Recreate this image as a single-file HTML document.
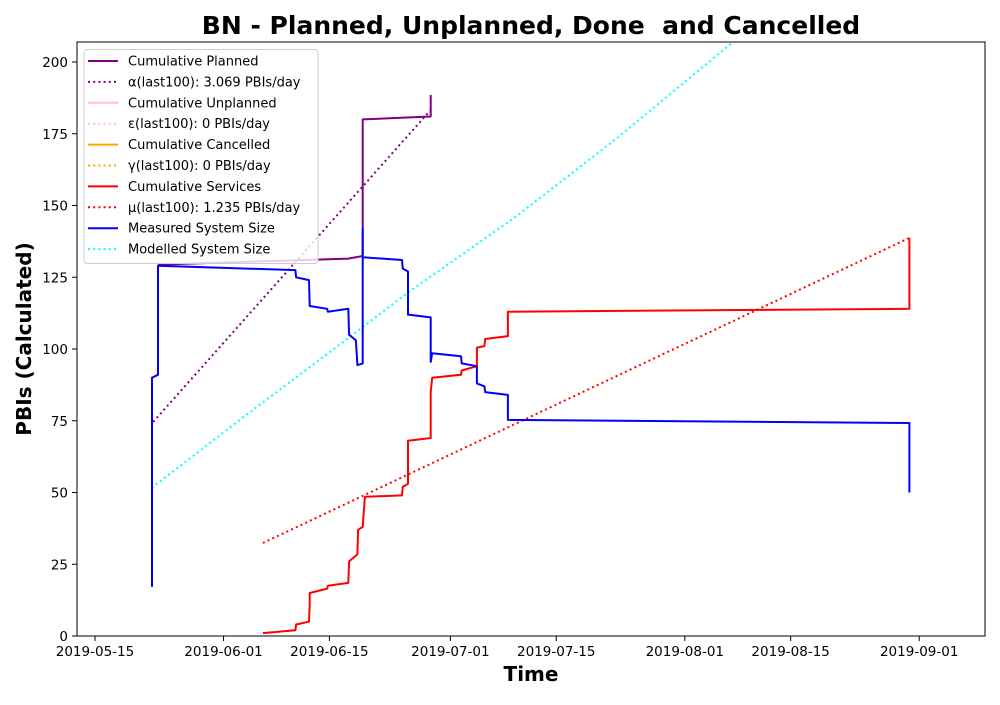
<!DOCTYPE html>
<html><head><meta charset="utf-8"><style>
body{margin:0;background:#fff;}
svg{font-family:"DejaVu Sans","Liberation Sans",sans-serif;}
</style></head><body>
<svg id="chart" width="1000" height="700" xmlns="http://www.w3.org/2000/svg">
<rect width="1000" height="700" fill="#fff"/>
<text x="531" y="34" text-anchor="middle" font-size="25" font-weight="bold">BN - Planned, Unplanned, Done &#160;and Cancelled</text>
<text x="531" y="681" text-anchor="middle" font-size="20" font-weight="bold">Time</text>
<text transform="translate(31,339) rotate(-90)" text-anchor="middle" font-size="20" font-weight="bold">PBIs (Calculated)</text>
<g id="plot"></g>
<rect x="77" y="42" width="908" height="594" fill="none" stroke="#000" stroke-width="1"/>
<g id="legend"></g>
</svg>
<script>
// days since 2019-05-15
const xTickLabels=["2019-05-15","2019-06-01","2019-06-15","2019-07-01","2019-07-15","2019-08-01","2019-08-15","2019-09-01"];
const xTickDays=[0,17,31,47,61,78,92,109];
const yTicks=[0,25,50,75,100,125,150,175,200];
const plannedX=[8.33,33.5,35.4,35.4,44.4,44.4];
const plannedY=[129.4,131.5,132.4,180,181,188.5];
const alphaX=[7.7,44.3];
const alphaY=[74.6,183];
const servicesX=[22.2,26.5,26.6,28.3,28.4,28.4,30.7,30.8,33.5,33.6,34.5,34.7,34.8,35.4,35.7,40.6,40.7,41.4,41.4,44.4,44.4,44.6,48.4,48.5,50.5,50.5,51.5,51.6,54.6,54.6,107.7,107.7];
const servicesY=[1,2,4,5,11,15,16.5,17.5,18.5,26,28,28.5,37,38,48.5,49,52,53,68,69,85,90,91,92.5,94,100.5,101,103.5,104.5,113,114,138.7];
const muX=[22.2,107.7];
const muY=[32.4,138.7];
const measuredX=[7.54,7.54,8.33,8.33,26.5,26.6,28.3,28.4,30.7,30.8,33.5,33.6,34.5,34.7,35.4,35.4,35.4,40.6,40.7,41.4,41.4,44.4,44.4,44.6,48.4,48.5,50.5,50.5,51.5,51.6,54.6,54.6,107.7,107.7];
const measuredY=[17.1,90,91,129,127.5,125,124,115,114,113,114,105,103,94.4,95,142,132,131,128,127,112,111,95.5,98.5,97.5,95,94,88,87,85,84,75.3,74.2,50];
const modelledX=[7.5,20,33.1,41.3,55.6,68.7,84.4];
const modelledY=[51.6,77,103,119.5,146,172.8,207];

const NS="http://www.w3.org/2000/svg";
const X0=77,X1=985,Y0=636,Y1=42;
const dMin=-2.38,dMax=117.7,vMax=206.97;
const sx=d=>X0+(d-dMin)/(dMax-dMin)*(X1-X0);
const sy=v=>Y0-v/vMax*(Y0-Y1);
const plot=document.getElementById('plot');
function mk(tag,attrs,parent){const e=document.createElementNS(NS,tag);for(const k in attrs)e.setAttribute(k,attrs[k]);parent.appendChild(e);return e;}
xTickDays.forEach((d,i)=>{
  const x=sx(d);
  const t=mk('line',{x1:x,x2:x,y1:636,y2:641,stroke:'#000'},plot);
  
  
  const l=mk('text',{x:x,y:656,'text-anchor':'middle','font-size':13.5},plot);
  l.textContent=xTickLabels[i];
  
  
});
yTicks.forEach(v=>{
  const y=sy(v);
  const t=mk('line',{x1:72,x2:77,y1:y,y2:y,stroke:'#000'},plot);
  
  
  const l=mk('text',{x:68,y:y+5,'text-anchor':'end','font-size':13.5},plot);
  l.textContent=v;
  
  
});
function series(xs,ys,color,dotted,name){
  const pts=xs.map((d,i)=>sx(d).toFixed(1)+','+sy(ys[i]).toFixed(1)).join(' ');
  const a={points:pts,fill:'none',stroke:color,'stroke-width':2,'stroke-linejoin':'round'};
  if(dotted){a['stroke-dasharray']='2 3.2';}
  const p=mk('polyline',a,plot);
  
  
}
series(plannedX,plannedY,'purple',false,'cumulative-planned-line');
series(alphaX,alphaY,'purple',true,'alpha-trend-line');
series(servicesX,servicesY,'red',false,'cumulative-services-line');
series(muX,muY,'red',true,'mu-trend-line');
series(modelledX,modelledY,'cyan',true,'modelled-system-size-line');
series(measuredX,measuredY,'blue',false,'measured-system-size-line');

const leg=document.getElementById('legend');
const box=mk('rect',{x:84,y:49.5,width:234,height:214,rx:3,fill:'#fff','fill-opacity':0.8,stroke:'#ccc'},leg);


const entries=[["Cumulative Planned","purple",0],["α(last100): 3.069 PBIs/day","purple",1],["Cumulative Unplanned","pink",0],["ε(last100): 0 PBIs/day","pink",1],["Cumulative Cancelled","orange",0],["γ(last100): 0 PBIs/day","orange",1],["Cumulative Services","red",0],["μ(last100): 1.235 PBIs/day","red",1],["Measured System Size","blue",0],["Modelled System Size","cyan",1]];
entries.forEach((e,i)=>{
  const y=61+i*20.9;
  const g=mk('g',{},leg);
  
  
  const a={x1:88,x2:118,y1:y,y2:y,stroke:e[1],'stroke-width':2};
  if(e[2])a['stroke-dasharray']='2 3.2';
  mk('line',a,g);
  const t=mk('text',{x:128,y:y+4.5,'font-size':13},g);
  t.textContent=e[0];
});
</script>
</body></html>
